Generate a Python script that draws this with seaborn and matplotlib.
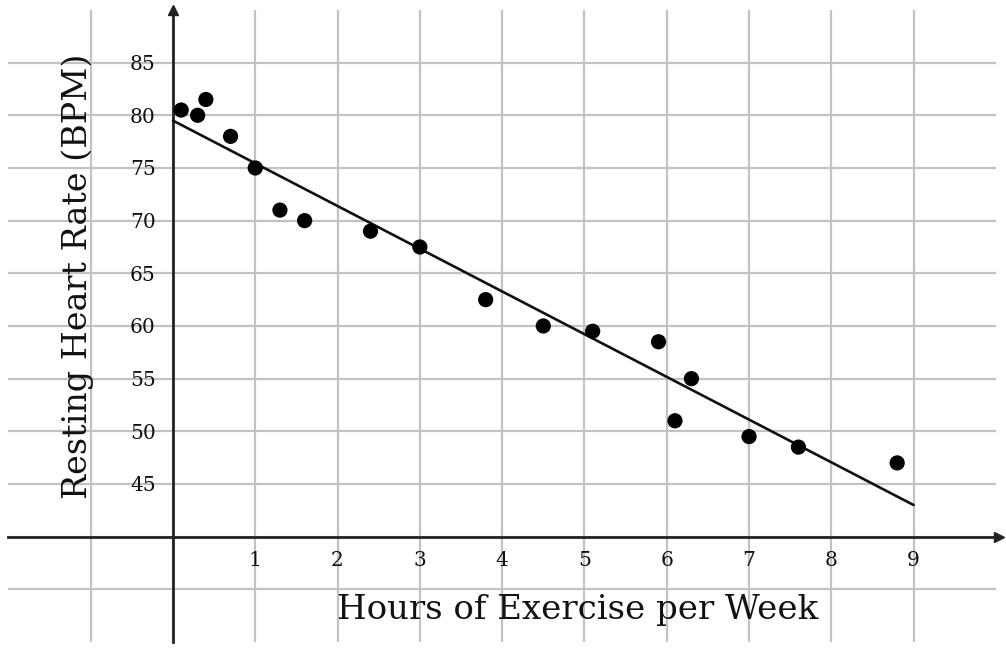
import matplotlib
matplotlib.use("Agg")
import matplotlib.pyplot as plt
import seaborn as sns
import pandas as pd

# Data
hours = [0.1, 0.3, 0.4, 0.7, 1.0, 1.3, 1.6, 2.4, 3.0, 3.8, 4.5, 5.1, 5.9, 6.1, 6.3, 7.0, 7.6, 8.8]
bpm = [80.5, 80.0, 81.5, 78.0, 75.0, 71.0, 70.0, 69.0, 67.5, 62.5, 60.0, 59.5, 58.5, 51.0, 55.0, 49.5, 48.5, 47.0]

# trend line end points
trend_hours = [0, 9]
trend_bpm = [79.5, 43.0]

x_ticks = [-1, 0, 1, 2, 3, 4, 5, 6, 7, 8, 9]
x_tick_labels = ["", "", "1", "2", "3", "4", "5", "6", "7", "8", "9"]
y_ticks = [35, 40, 45, 50, 55, 60, 65, 70, 75, 80, 85]
y_tick_labels = ["", "", "45", "50", "55", "60", "65", "70", "75", "80", "85"]

sns.set_theme(style="whitegrid")
plt.rcParams['font.family'] = ['DejaVu Serif']

df = pd.DataFrame({"hours": hours, "bpm": bpm})
trend = pd.DataFrame({"hours": trend_hours, "bpm": trend_bpm})

fig = plt.figure(figsize=(10.06, 6.6), dpi=100)
ax = fig.add_axes([0.0083, 0.0273, 0.9817, 0.9576])
ax.set_facecolor("white")

sns.lineplot(data=trend, x="hours", y="bpm", color="#111111", linewidth=1.9, ax=ax, zorder=3)
sns.scatterplot(data=df, x="hours", y="bpm", color="black", s=120, edgecolor="none", ax=ax, zorder=4)

ax.set_xlim(-2, 10)
ax.set_ylim(30, 90)
ax.set_xticks(x_ticks)
ax.set_xticklabels(x_tick_labels)
ax.set_yticks(y_ticks)
ax.set_yticklabels(y_tick_labels)
ax.grid(True, color="#c2c2c2", linewidth=1.6)

# axes crossing at (0, 40)
ax.spines['left'].set_position(('data', 0))
ax.spines['bottom'].set_position(('data', 40))
ax.spines['right'].set_visible(False)
ax.spines['top'].set_visible(False)
for side in ['left', 'bottom']:
    ax.spines[side].set_color("#222222")
    ax.spines[side].set_linewidth(2.0)
    ax.spines[side].set_zorder(2)

ax.tick_params(axis='both', direction='inout', length=5, width=1.2, colors="#222222",
               labelsize=14.5, labelcolor="#111111")
ax.tick_params(axis='x', pad=8)
ax.tick_params(axis='y', pad=10)

# arrow heads
ax.plot(1.003, 40, ">", color="#222222", markersize=7, transform=ax.get_yaxis_transform(), clip_on=False)
ax.plot(0, 1.0, "^", color="#222222", markersize=7, transform=ax.get_xaxis_transform(), clip_on=False)

ax.set_xlabel("Hours of Exercise per Week", fontsize=24.5, color="#111111")
ax.xaxis.label.set_va("center")
ax.xaxis.set_label_coords(0.576, 0.05)
ax.set_ylabel("Resting Heart Rate (BPM)", fontsize=24, color="#111111")
ax.yaxis.label.set_va("center")
ax.yaxis.set_label_coords(0.0705, 0.578)

fig.savefig("out.png", dpi=100)
